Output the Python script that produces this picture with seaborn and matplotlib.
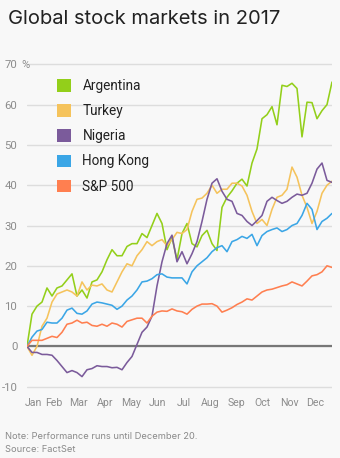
import numpy as np
import pandas as pd
import matplotlib
matplotlib.use("Agg")
import matplotlib.pyplot as plt
from matplotlib.patches import Patch
import seaborn as sns

# ---------------- data (cumulative % change in 2017) ----------------
markets = ["Argentina", "Turkey", "Nigeria", "Hong Kong", "S&P 500"]
colors = ["#93cf1a", "#f5c35c", "#7b5b9b", "#3ba6e6", "#ff7f50"]
month_labels = ["Jan", "Feb", "Mar", "Apr", "May", "Jun",
                "Jul", "Aug", "Sep", "Oct", "Nov", "Dec"]
y_ticks = [-10, 0, 10, 20, 30, 40, 50, 60, 70]

argentina = [0, 8.0, 10.0, 11.0, 14.5, 12.5, 14.5, 15.0, 16.5, 18.0,
             12.5, 14.0, 12.0, 16.0, 16.5, 18.5, 21.5, 24.0, 22.5, 22.5,
             24.8, 25.5, 25.5, 28.0, 27.0, 30.0, 33.0, 30.5, 24.0, 27.0,
             21.5, 28.0, 30.5, 25.5, 24.7, 27.5, 28.8, 25.5, 23.8, 34.5,
             37.0, 38.6, 40.5, 41.5, 39.8, 45.5, 49.0, 56.5, 57.5, 59.5,
             55.0, 64.8, 64.5, 65.3, 64.0, 52.0, 60.6, 60.5, 56.5, 58.5,
             60.0, 65.6]
turkey = [0, -2.2, 0.0, 5.0, 7.0, 11.0, 13.0, 13.5, 14.0, 13.5,
          12.5, 16.0, 14.0, 15.2, 15.0, 15.5, 14.0, 13.5, 16.0, 18.5,
          20.5, 20.0, 22.5, 24.0, 26.0, 25.0, 26.0, 26.5, 25.0, 26.5,
          28.3, 28.0, 29.0, 33.5, 36.5, 36.8, 38.0, 40.0, 38.0, 39.0,
          39.0, 40.5, 40.5, 39.8, 37.5, 33.5, 30.5, 31.5, 30.0, 34.0,
          37.0, 37.5, 39.0, 44.5, 42.0, 37.5, 34.5, 30.5, 33.5, 38.0,
          40.0, 41.0]
nigeria = [0, -1.5, -1.5, -2.0, -2.0, -2.2, -3.5, -5.0, -6.5, -6.0,
           -6.5, -7.5, -5.8, -5.5, -4.8, -5.0, -5.0, -5.3, -5.2, -5.8,
           -4.0, -2.5, 0.5, 3.5, 4.8, 7.5, 15.0, 21.0, 25.5, 27.6,
           21.0, 23.5, 20.5, 23.0, 26.0, 31.0, 36.5, 40.5, 41.6, 38.5,
           36.5, 36.0, 33.0, 32.5, 31.0, 30.0, 31.2, 32.5, 36.0, 37.0,
           36.2, 35.5, 36.0, 37.0, 37.8, 37.5, 38.0, 40.5, 44.0, 45.5,
           41.2, 40.7]
hong_kong = [0, 2.3, 3.8, 4.2, 6.0, 5.8, 5.8, 7.0, 9.0, 9.5,
             8.2, 8.0, 8.8, 10.5, 11.0, 10.8, 10.5, 10.2, 9.2, 10.0,
             11.5, 12.5, 14.0, 16.0, 16.2, 16.8, 17.8, 18.0, 17.2, 17.0,
             17.0, 17.0, 15.5, 18.5, 20.0, 21.0, 22.0, 23.5, 24.5, 25.0,
             23.5, 26.0, 26.5, 27.3, 26.8, 27.8, 25.0, 27.5, 28.5, 29.0,
             29.4, 28.5, 29.0, 30.0, 30.5, 32.5, 35.5, 34.0, 29.0, 31.0,
             31.8, 33.0]
sp500 = [0, 1.5, 1.5, 1.5, 2.0, 2.5, 2.2, 3.5, 5.5, 5.8,
         6.5, 5.8, 6.0, 5.2, 5.0, 5.5, 5.0, 5.8, 5.5, 4.8,
         6.2, 6.6, 7.0, 7.0, 5.8, 7.5, 8.5, 8.8, 8.7, 9.3,
         8.8, 8.6, 8.0, 9.2, 10.0, 10.5, 10.5, 10.6, 10.0, 8.5,
         9.0, 9.6, 10.4, 11.0, 11.8, 11.5, 12.5, 13.5, 14.0, 14.2,
         14.6, 15.0, 15.3, 16.0, 15.5, 15.0, 16.2, 17.5, 17.8, 18.5,
         20.0, 19.6]

series = [argentina, turkey, nigeria, hong_kong, sp500]
dates = pd.date_range("2017-01-01", "2017-12-20", periods=len(argentina))

frames = [pd.DataFrame({"date": dates, "value": vals, "market": name})
          for name, vals in zip(markets, series)]
long_df = pd.concat(frames, ignore_index=True)

# ---------------- style ----------------
bg = "#f8f8f8"
sns.set_style("white")
plt.rcParams["font.family"] = ["Roboto", "DejaVu Sans"]
plt.rcParams["axes.facecolor"] = bg
plt.rcParams["figure.facecolor"] = bg

fig = plt.figure(figsize=(3.4, 4.58), dpi=100)
ax = fig.add_axes([27 / 340, 1 - 388.7 / 458, 305 / 340, (388.7 - 60.3) / 458])
ax.set_facecolor(bg)

sns.lineplot(data=long_df, x="date", y="value", hue="market",
             hue_order=markets, palette=colors, linewidth=1.15,
             estimator=None, legend=False, ax=ax)

ax.set_xlim(dates[0], dates[-1])
ax.set_ylim(-10.5, 71)
ax.set_yticks(y_ticks)
ax.set_yticklabels([str(t) for t in y_ticks])
ax.yaxis.grid(True, color="#dddddd", linewidth=1.0)
ax.xaxis.grid(False)
ax.set_axisbelow(True)
ax.axhline(0, color="#777777", linewidth=1.6, zorder=1.5)

month_ticks = [pd.Timestamp(2017, 1, 9)] + [pd.Timestamp(2017, m, 1) for m in range(2, 13)]
ax.set_xticks(month_ticks)
ax.set_xticklabels(month_labels)

tick_font = ["Roboto", "DejaVu Sans"]
for lab in ax.get_xticklabels():
    lab.set_family(tick_font)
    lab.set_fontsize(7.6)
    lab.set_color("#8c8c8c")
for lab in ax.get_yticklabels():
    lab.set_family(tick_font)
    lab.set_fontsize(8.2)
    lab.set_color("#8c8c8c")
ax.tick_params(axis="both", length=0)
ax.tick_params(axis="x", pad=7)
ax.tick_params(axis="y", pad=7)
for s in ax.spines.values():
    s.set_visible(False)
ax.set_xlabel("")
ax.set_ylabel("")

# percent sign after the top tick label
fig.text(21 / 340, 1 - 64.3 / 458, "%", ha="left", va="center_baseline",
         fontsize=8.0, color="#8c8c8c", family=tick_font)

# legend
handles = [Patch(facecolor=c, edgecolor="none", label=n)
           for n, c in zip(markets, colors)]
leg = ax.legend(handles=handles, loc="upper left",
                bbox_to_anchor=(57 / 340, 1 - 79 / 458),
                bbox_transform=fig.transFigure, frameon=False,
                fontsize=9.8, handlelength=1.02, handleheight=1.02,
                handletextpad=0.85, labelspacing=0.82,
                borderpad=0, borderaxespad=0)
for t in leg.get_texts():
    t.set_color("#222222")

# title and notes
fig.text(8 / 340, 1 - 19.5 / 458, "Global stock markets in 2017",
         ha="left", va="center", fontsize=14.5, color="#222222",
         family=["Inter", "Roboto", "DejaVu Sans"])
note_font = ["Inter", "Roboto", "DejaVu Sans"]
fig.text(5 / 340, 1 - 436.5 / 458, "Note: Performance runs until December 20.",
         ha="left", va="center", fontsize=6.7, color="#8a8a8a", family=note_font)
fig.text(5 / 340, 1 - 449 / 458, "Source: FactSet",
         ha="left", va="center", fontsize=6.7, color="#8a8a8a", family=note_font)

fig.savefig("out.png", dpi=100, facecolor=bg)
